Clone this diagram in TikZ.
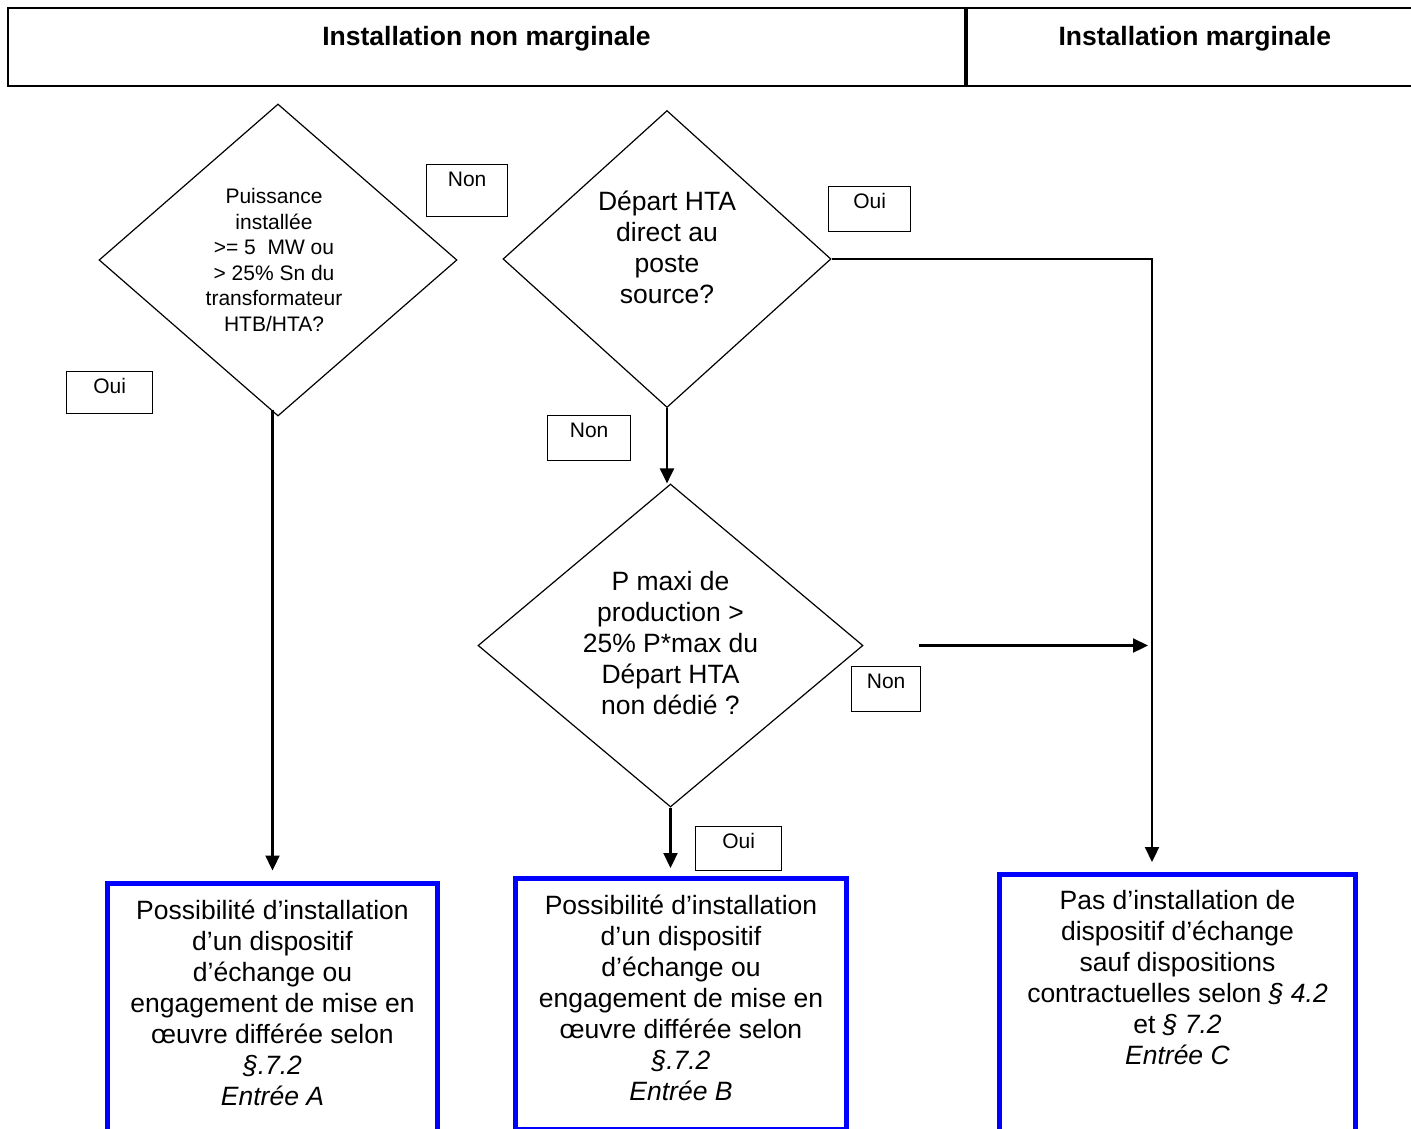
\documentclass[tikz,border=0pt]{standalone}
\usepackage{fontspec}
\setmainfont{Liberation Sans}
\usetikzlibrary{arrows.meta}
\usetikzlibrary{positioning}
\usetikzlibrary{shapes.geometric}

\newcommand{\bigtxt}{\fontsize{26.5}{31}\selectfont}
\newcommand{\smalltxt}{\fontsize{21}{25.5}\selectfont}

\begin{document}
\begin{tikzpicture}[x=1pt,y=-1pt,
	>={Triangle[length=15pt,width=14pt]},
	head/.style={draw,line width=1.8pt,minimum height=78pt,inner sep=0pt,
		text height=19pt,text depth=23pt,font=\bigtxt\bfseries},
	ques/.style={draw,diamond,line width=1.2pt,inner sep=0pt},
	qtext/.style={align=center,inner sep=0pt},
	tag/.style={draw,line width=1.3pt,anchor=north west,inner sep=0pt,
		text height=21.5pt,font=\smalltxt},
	entry/.style={draw=blue,line width=5pt,anchor=north,inner sep=0pt,outer sep=0pt},
	etext/.style={align=center,inner sep=0pt,font=\bigtxt},
	flow/.style={->,line width=2.2pt}]
	\useasboundingbox (0,0) rectangle (1411,1128);

	% en-tete
	\node[head,minimum width=957pt] (hnon) at (486.5,47) {Installation non marginale};
	\node[head,minimum width=456pt,right=0pt of hnon] (hmar) {Installation marginale};

	% questions
	\node[ques,minimum width=358pt,minimum height=312pt] (q1) at (278,260) {};
	\node[qtext,font=\smalltxt] at ([xshift=-4pt]q1.center) {Puissance\\installée\\>= 5\ \ MW ou\\> 25\% Sn du\\transformateur\\HTB/HTA?};
	\node[ques,minimum width=328pt,minimum height=297pt] (q2) at (667,259) {};
	\node[qtext,font=\bigtxt] at ([yshift=12pt]q2.center) {Départ HTA\\direct au\\poste\\source?};
	\node[ques,minimum width=385pt,minimum height=323pt] (q3) at (670.5,645.5) {};
	\node[qtext,font=\bigtxt] at ([yshift=2pt]q3.center) {P maxi de\\production >\\25\% P*max du\\Départ HTA\\non dédié ?};

	% reponses
	\node[tag,minimum width=81pt,text depth=30.5pt] (non1) at (426,164) {Non};
	\node[tag,minimum width=86pt,text depth=20.5pt] (oui1) at (66,371) {Oui};
	\node[tag,minimum width=82pt,text depth=23.5pt] (oui2) at (828,186) {Oui};
	\node[tag,minimum width=83pt,text depth=23.5pt] (non2) at (547,415) {Non};
	\node[tag,minimum width=69pt,text depth=23.5pt] (non3) at (851,666) {Non};
	\node[tag,minimum width=86pt,text depth=22.5pt] (oui3) at (695,826) {Oui};

	% entrees
	\node[entry,minimum width=330pt,minimum height=300pt] (boxA) at (272.5,883.5) {};
	\node[etext,below=16pt of boxA.north] {Possibilité d’installation\\d’un dispositif\\d’échange ou\\engagement de mise en\\œuvre différée selon\\\textit{§.7.2}\\\textit{Entrée A}};
	\node[entry,minimum width=331pt,minimum height=251pt] (boxB) at (681,878.5) {};
	\node[etext,below=16pt of boxB.north] {Possibilité d’installation\\d’un dispositif\\d’échange ou\\engagement de mise en\\œuvre différée selon\\\textit{§.7.2}\\\textit{Entrée B}};
	\node[entry,minimum width=356pt,minimum height=300pt] (boxC) at (1177.5,874.5) {};
	\node[etext,below=16pt of boxC.north] {Pas d’installation de\\dispositif d’échange\\sauf dispositions\\contractuelles selon \textit{§ 4.2}\\et \textit{§ 7.2}\\\textit{Entrée C}};

	% fleches
	\coordinate (cdown) at (1152,0);
	\draw[flow,shorten <=-7pt,shorten >=13pt] (q1.south -| boxA.north) -- (boxA.north);
	\draw[flow,shorten >=12.5pt] (q2.east) -| (cdown |- boxC.north);
	\draw[flow] (q2.south) -- (q2.south |- q3.north);
	\draw[flow,shorten <=55pt,shorten >=4pt] (q3.east) -- (q3.east -| cdown);
	\draw[flow,shorten >=10.5pt] (q3.south) -- (q3.south |- boxB.north);
\end{tikzpicture}
\end{document}
